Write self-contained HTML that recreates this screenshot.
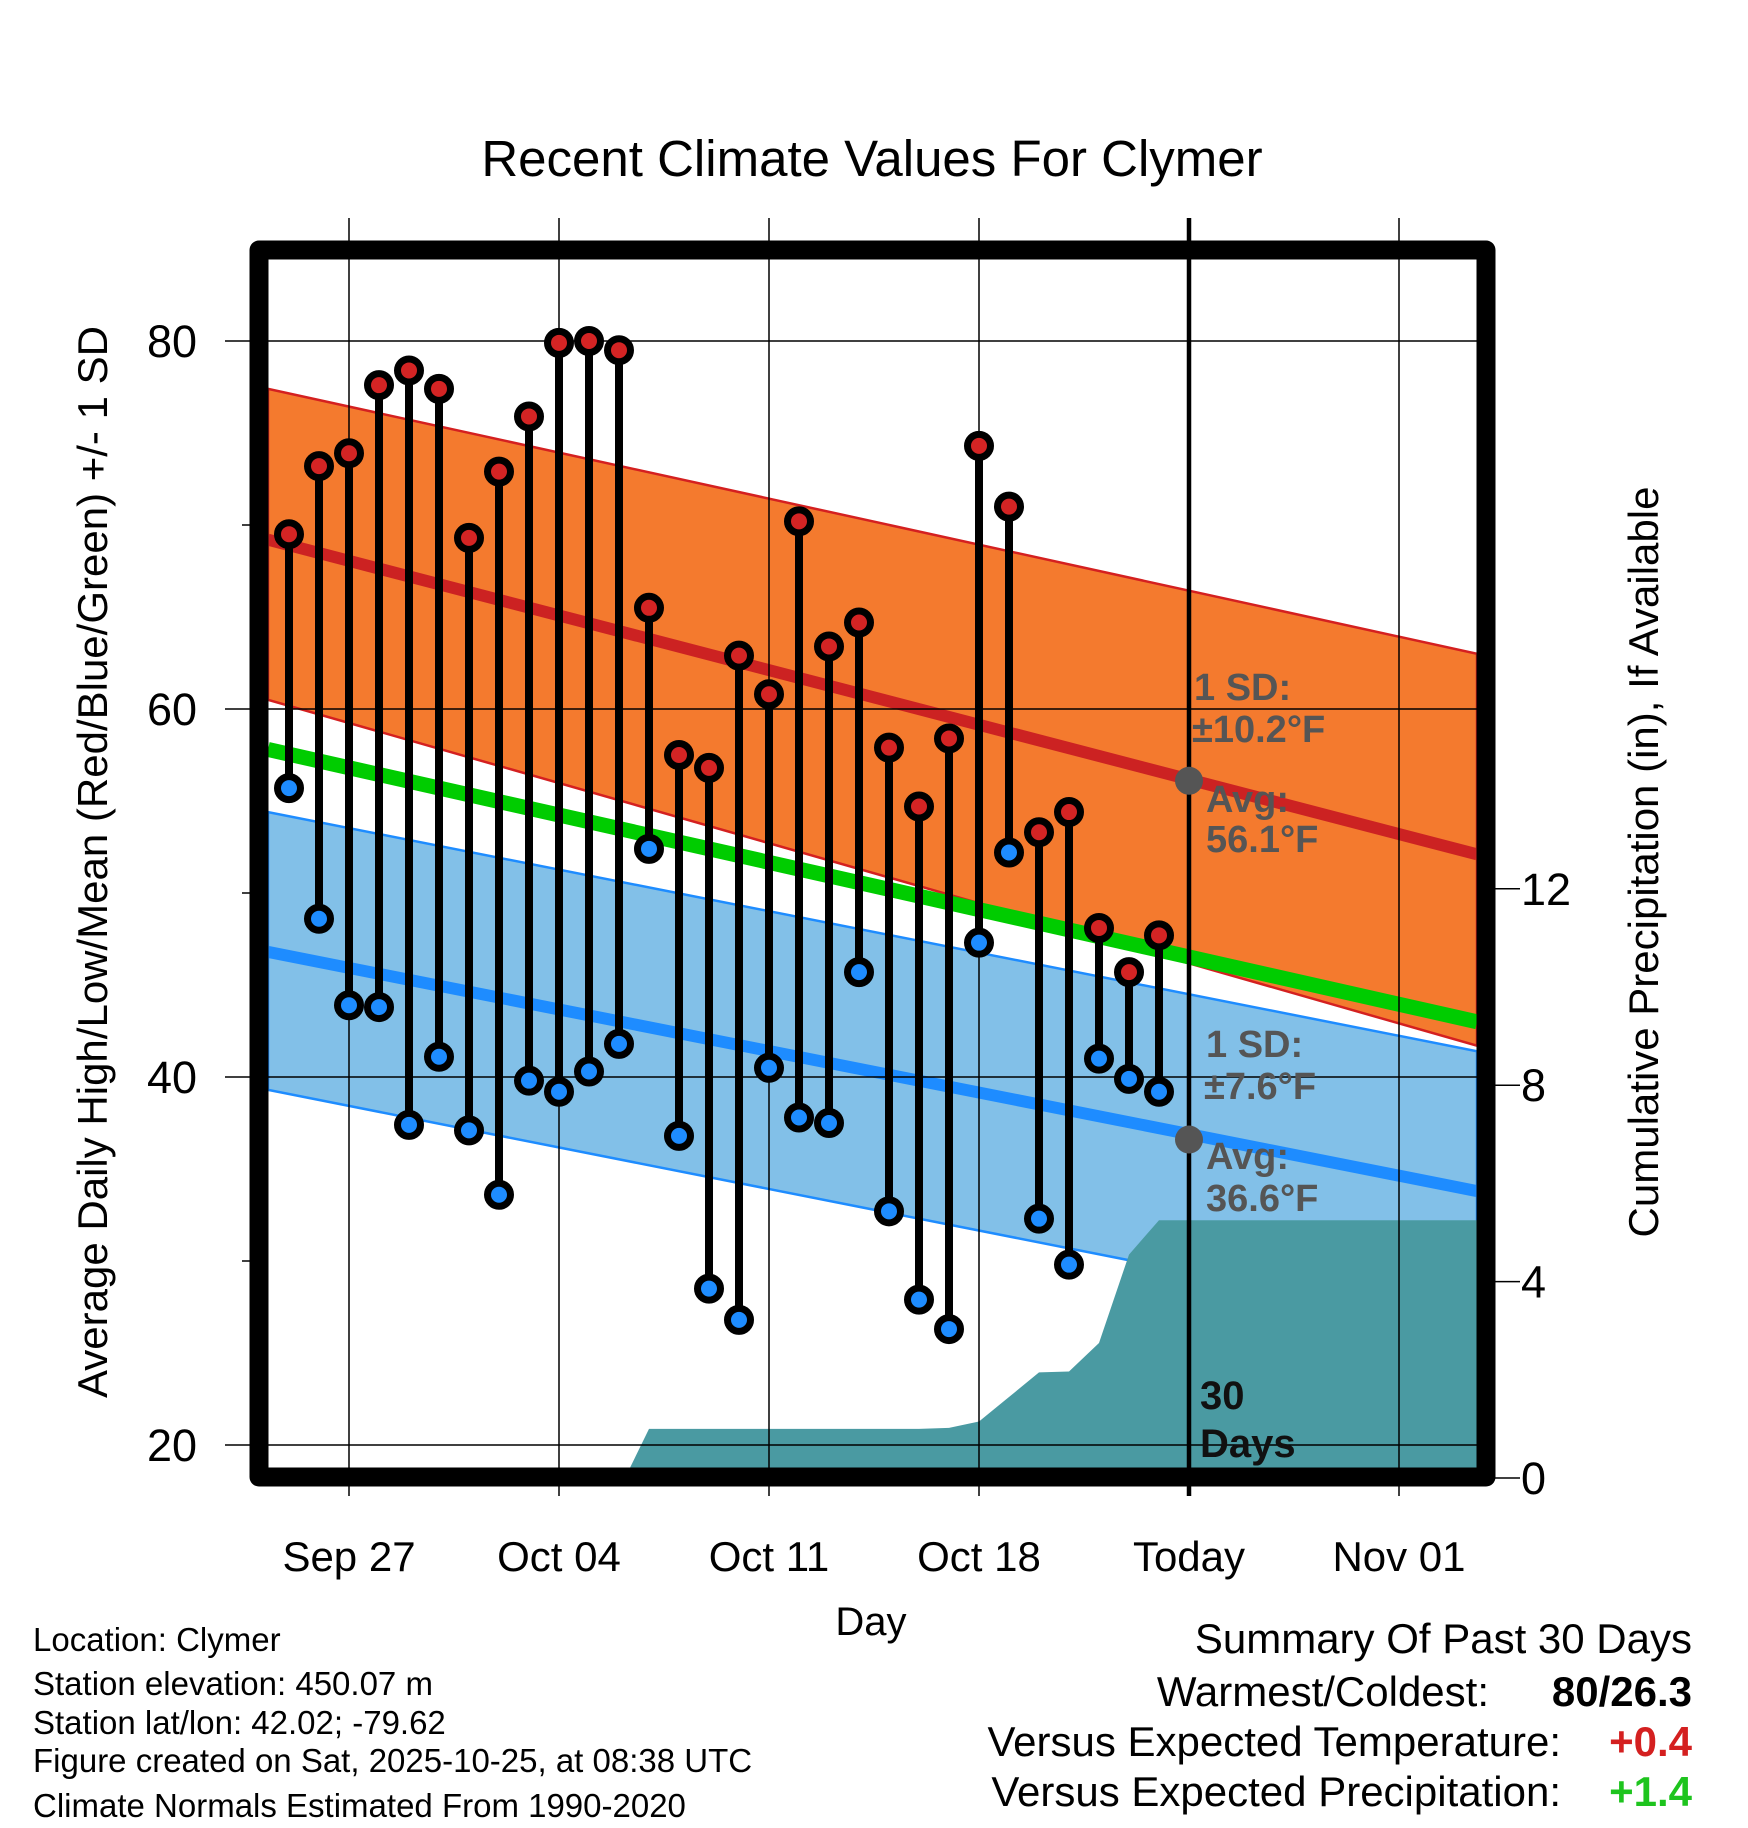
<!DOCTYPE html>
<html><head><meta charset="utf-8"><style>
body{margin:0;background:#fff}
svg{display:block}
text{font-family:"Liberation Sans",Arial,sans-serif}
</style></head><body>
<svg id="c" width="1748" height="1828" viewBox="0 0 1748 1828" xmlns="http://www.w3.org/2000/svg">
<defs><clipPath id="pc"><rect x="268" y="259" width="1209" height="1209"/></clipPath></defs>
<g id="bands" clip-path="url(#pc)"></g>
<g id="precip" clip-path="url(#pc)"></g>
<g id="grid"></g>
<g id="marks"></g>
<rect x="259" y="250" width="1227" height="1227" fill="none" stroke="#000" stroke-width="19" stroke-linejoin="round"/>
<g id="axes"></g>
<text x="872" y="176" font-size="51" text-anchor="middle">Recent Climate Values For Clymer</text>
<text transform="translate(107,862) rotate(-90)" font-size="42" text-anchor="middle">Average Daily High/Low/Mean (Red/Blue/Green) +/- 1 SD</text>
<text transform="translate(1658,862) rotate(-90)" font-size="42" text-anchor="middle">Cumulative Precipitation (in), If Available</text>
<text x="871" y="1635" font-size="40" text-anchor="middle">Day</text>
<g font-size="38" font-weight="bold" fill="#555">
<text x="1194" y="700">1 SD:</text><text x="1192" y="742">±10.2°F</text>
<text x="1206" y="812">Avg:</text><text x="1206" y="852">56.1°F</text>
<text x="1206" y="1057">1 SD:</text><text x="1204" y="1099">±7.6°F</text>
<text x="1206" y="1169">Avg:</text><text x="1206" y="1211">36.6°F</text>
</g>
<g font-size="40" font-weight="bold" fill="#111">
<text x="1200" y="1409">30</text><text x="1200" y="1457">Days</text></g>
<g font-size="33">
<text x="33" y="1651">Location: Clymer</text>
<text x="33" y="1695">Station elevation: 450.07 m</text>
<text x="33" y="1734">Station lat/lon: 42.02; -79.62</text>
<text x="33" y="1772">Figure created on Sat, 2025-10-25, at 08:38 UTC</text>
<text x="33" y="1817">Climate Normals Estimated From 1990-2020</text>
</g>
<g font-size="42">
<text x="1692" y="1653" text-anchor="end">Summary Of Past 30 Days</text>
<text x="1489" y="1706" text-anchor="end">Warmest/Coldest:</text>
<text x="1692" y="1706" text-anchor="end" font-weight="bold">80/26.3</text>
<text x="1561" y="1756" text-anchor="end">Versus Expected Temperature:</text>
<text x="1692" y="1756" text-anchor="end" font-weight="bold" fill="#d42020">+0.4</text>
<text x="1561" y="1806" text-anchor="end">Versus Expected Precipitation:</text>
<text x="1692" y="1806" text-anchor="end" font-weight="bold" fill="#1ec41e">+1.4</text>
</g>
</svg>
<script>
// data (day offsets relative to Sep 27)
const dayOffsets = [-2,-1,0,1,2,3,4,5,6,7,8,9,10,11,12,13,14,15,16,17,18,19,20,21,22,23,24,25,26,27];
const highs = [69.5,73.2,73.9,77.6,78.4,77.4,69.3,72.9,75.9,79.9,80.0,79.5,65.5,57.5,56.8,62.9,60.8,70.2,63.4,64.7,57.9,54.7,58.4,74.3,71.0,53.3,54.4,48.1,45.7,47.7];
const lows = [55.7,48.6,43.9,43.8,37.4,41.1,37.1,33.6,39.8,39.2,40.3,41.8,52.4,36.8,28.5,26.8,40.5,37.8,37.5,45.7,32.7,27.9,26.3,47.3,52.2,32.3,29.8,41.0,39.9,39.2];
const precip = [0,0,0,0,0,0,0,0,0,0,0,0,1.0,1.0,1.0,1.0,1.0,1.0,1.0,1.0,1.0,1.0,1.02,1.15,1.65,2.15,2.17,2.75,4.55,5.25];
const normDays = [-2.7, 37.6];
const avgHigh = [69.2, 52.1];
const highUpper = [77.4, 63.0];
const highLower = [60.5, 41.7];
const meanT = [57.8, 43.0];
const avgLow = [46.8, 33.8];
const lowUpper = [54.4, 41.4];
const lowLower = [39.3, 26.3];
const xTickDays = [0,7,14,21,28,35];
const xTickLabels = ["Sep 27","Oct 04","Oct 11","Oct 18","Today","Nov 01"];
const yTicks = [20,40,60,80];
const yMinor = [30,50,70];
const pTicks = [0,4,8,12];
const todayAvgHigh = 56.1, todayAvgLow = 36.6, todayDay = 28;

const NS="http://www.w3.org/2000/svg";
const X = d => 349 + d*30;
const Y = v => 341 + (80 - v)*18.4;
const P = p => 1478 - p*49.1;
function mk(tag, attrs, parent){const e=document.createElementNS(NS,tag);for(const k in attrs)e.setAttribute(k,attrs[k]);parent.appendChild(e);return e;}
const bands=document.getElementById('bands'), grid=document.getElementById('grid'), marks=document.getElementById('marks'), axes=document.getElementById('axes'), pg=document.getElementById('precip');

function band(up, lo, fill, edge, name){
  const pts=[[X(normDays[0]),Y(up[0])],[X(normDays[1]),Y(up[1])],[X(normDays[1]),Y(lo[1])],[X(normDays[0]),Y(lo[0])]];
  const e=mk('polygon',{points:pts.map(p=>p.join(',')).join(' '),fill:fill,stroke:edge,'stroke-width':2.5},bands);
  
  
}
function line(arr, col, w, name){
  const e=mk('line',{x1:X(normDays[0]),y1:Y(arr[0]),x2:X(normDays[1]),y2:Y(arr[1]),stroke:col,'stroke-width':w},bands);
  
  
}
band(highUpper, highLower, '#f47a2e', '#d42020', 'high-sd-band');
band(lowUpper, lowLower, '#82c0e8', '#1e8cff', 'low-sd-band');
line(avgHigh, '#cc2222', 12, 'avg-high-line');
line(meanT, '#00cc00', 15, 'avg-mean-line');
line(avgLow, '#1e8cff', 12, 'avg-low-line');

// precipitation area
let start = 0; for(let i=0;i<precip.length;i++){ if(precip[i]>0){ start=Math.max(0,i-1); break; } }
let pts=[[X(dayOffsets[start])+6,P(0)]];
for(let i=start+1;i<precip.length;i++) pts.push([X(dayOffsets[i]),P(precip[i])]);
pts.push([1477,P(precip[precip.length-1])],[1477,P(0)]);
const pa=mk('polygon',{points:pts.map(p=>p.join(',')).join(' '),fill:'#4a9aa2'},pg);



// grid
yTicks.forEach(v=>{
  const g=mk('line',{x1:225,y1:Y(v),x2:1477,y2:Y(v),stroke:'#000','stroke-width':1.5},grid);
  
  
  const t=mk('text',{x:197,y:Y(v)+16,'font-size':45,'text-anchor':'end'},axes); t.textContent=v;
  
  
});
yMinor.forEach(v=>{
  const g=mk('line',{x1:242,y1:Y(v),x2:252,y2:Y(v),stroke:'#000','stroke-width':1.5},grid);
  
  
});
xTickDays.forEach((d,i)=>{
  const g=mk('line',{x1:X(d),y1:218,x2:X(d),y2:1496,stroke:'#000','stroke-width':i===4?4.5:1.5},grid);
  
  
  const t=mk('text',{x:X(d),y:1571,'font-size':42,'text-anchor':'middle'},axes); t.textContent=xTickLabels[i];
  
  
});
pTicks.forEach(p=>{
  const g=mk('line',{x1:1495,y1:P(p),x2:1520,y2:P(p),stroke:'#000','stroke-width':1.5},axes);
  
  
  const t=mk('text',{x:1521,y:P(p)+16,'font-size':45},axes); t.textContent=p;
  
  
});

// stems and dots
dayOffsets.forEach((d,i)=>{
  const s=mk('line',{x1:X(d),y1:Y(highs[i]),x2:X(d),y2:Y(lows[i]),stroke:'#000','stroke-width':8},marks);
  
  
});
dayOffsets.forEach((d,i)=>{
  const h=mk('circle',{cx:X(d),cy:Y(highs[i]),r:11.5,fill:'#d42424',stroke:'#000','stroke-width':7},marks);
  
  
  const l=mk('circle',{cx:X(d),cy:Y(lows[i]),r:11.5,fill:'#1e8cff',stroke:'#000','stroke-width':7},marks);
  
  
});
const c1=mk('circle',{cx:X(todayDay),cy:Y(todayAvgHigh),r:14,fill:'#555'},marks);


const c2=mk('circle',{cx:X(todayDay),cy:Y(todayAvgLow),r:14,fill:'#555'},marks);


</script>
</body></html>
